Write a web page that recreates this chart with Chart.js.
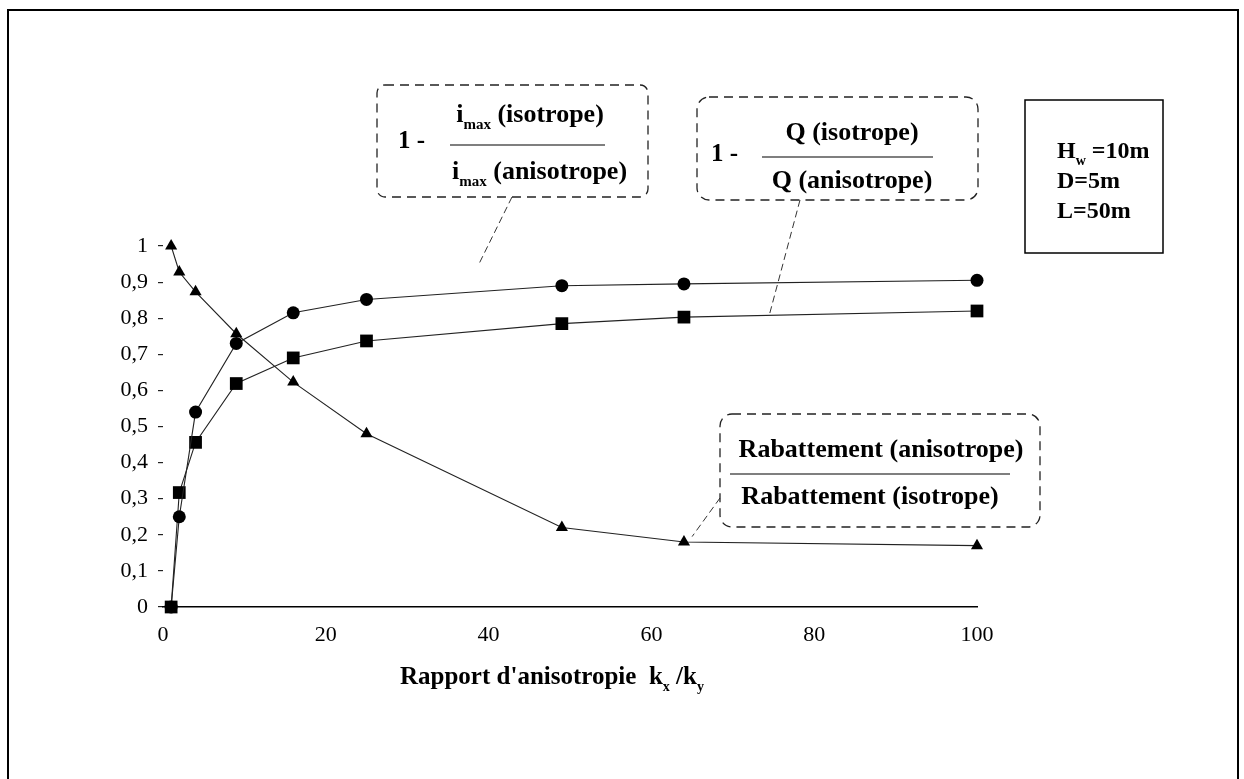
<!DOCTYPE html>
<html>
<head>
<meta charset="utf-8">
<script src="https://cdn.jsdelivr.net/npm/chart.js@4"></script>
<style>
  html, body { margin: 0; padding: 0; background: #fff; }
  #wrap { position: relative; width: 1244px; height: 779px; }
</style>
</head>
<body>
<div id="wrap"><canvas id="chart" width="1244" height="779"></canvas></div>
<script>
// anisotropy ratio kx/ky
const ratios = [1, 2, 4, 9, 16, 25, 49, 64, 100];
// 1 - imax(iso)/imax(aniso)
const gradientRatio = [0, 0.25, 0.54, 0.73, 0.815, 0.852, 0.89, 0.895, 0.905];
// 1 - Q(iso)/Q(aniso)
const flowRatio = [0, 0.317, 0.456, 0.619, 0.69, 0.737, 0.785, 0.803, 0.82];
// drawdown(aniso)/drawdown(iso)
const drawdownRatio = [1.0, 0.928, 0.873, 0.757, 0.623, 0.48, 0.22, 0.18, 0.17];
const yTickLabels = ['0', '0,1', '0,2', '0,3', '0,4', '0,5', '0,6', '0,7', '0,8', '0,9', '1'];
const paramLines = [['H', 'w', ' =10m'], ['D=5m'], ['L=50m']];

const SERIF = '"Liberation Serif", "Times New Roman", serif';

const toPoints = vals => ratios.map((r, i) => ({ x: r, y: vals[i] }));

function dashedBox(ctx, x, y, w, h, r) {
  ctx.save();
  ctx.setLineDash([9, 6]);
  ctx.lineWidth = 1.3;
  ctx.strokeStyle = '#222';
  ctx.beginPath();
  ctx.roundRect(x, y, w, h, r);
  ctx.stroke();
  ctx.restore();
}

// draws [text, sub?] pieces from x, returns total width
function pieces(ctx, parts, x, y, size, measureOnly) {
  let cx = x;
  parts.forEach(([txt, sub]) => {
    ctx.font = 'bold ' + (sub ? Math.round(size * 0.58) : size) + 'px ' + SERIF;
    if (!measureOnly) ctx.fillText(txt, cx, sub ? y + size * 0.38 : y);
    cx += ctx.measureText(txt).width;
  });
  return cx - x;
}
function centered(ctx, parts, cx, y, size) {
  const w = pieces(ctx, parts, 0, 0, size, true);
  pieces(ctx, parts, cx - w / 2, y, size, false);
}
function rule(ctx, x1, x2, y) {
  ctx.beginPath();
  ctx.moveTo(x1, y);
  ctx.lineTo(x2, y);
  ctx.stroke();
}

const extras = {
  id: 'extras',
  afterDraw(chart) {
    const ctx = chart.ctx;
    const xs = chart.scales.x, ys = chart.scales.y;
    ctx.save();
    ctx.fillStyle = '#000';
    ctx.strokeStyle = '#000';
    ctx.textBaseline = 'middle';
    ctx.textAlign = 'left';

    // page frame
    ctx.lineWidth = 2;
    ctx.beginPath();
    ctx.moveTo(8, 779); ctx.lineTo(8, 10); ctx.lineTo(1238, 10); ctx.lineTo(1238, 779);
    ctx.stroke();

    // leader lines
    ctx.save();
    ctx.lineWidth = 1;
    ctx.strokeStyle = '#333';
    ctx.setLineDash([7, 4]);
    ctx.beginPath();
    ctx.moveTo(512, 197); ctx.lineTo(xs.getPixelForValue(38.7), ys.getPixelForValue(0.945));
    ctx.moveTo(800, 200); ctx.lineTo(xs.getPixelForValue(74.5), ys.getPixelForValue(0.81));
    ctx.moveTo(720, 498); ctx.lineTo(xs.getPixelForValue(65), ys.getPixelForValue(0.195));
    ctx.stroke();
    ctx.restore();

    // box: 1 - imax(iso)/imax(aniso)
    dashedBox(ctx, 377, 85, 271, 112, 8);
    ctx.lineWidth = 1.2;
    pieces(ctx, [['1 -']], 398, 142, 25);
    centered(ctx, [['i'], ['max', 1], [' (isotrope)']], 530, 115, 26);
    rule(ctx, 450, 605, 145);
    pieces(ctx, [['i'], ['max', 1], [' (anisotrope)']], 452, 172, 26);

    // box: 1 - Q(iso)/Q(aniso)
    dashedBox(ctx, 697, 97, 281, 103, 12);
    pieces(ctx, [['1 -']], 711, 155, 25);
    centered(ctx, [['Q (isotrope)']], 852, 133, 26);
    rule(ctx, 762, 933, 157);
    centered(ctx, [['Q (anisotrope)']], 852, 181, 26);

    // box: drawdown ratio
    dashedBox(ctx, 720, 414, 320, 113, 12);
    centered(ctx, [['Rabattement (anisotrope)']], 881, 450, 26);
    rule(ctx, 730, 1010, 474);
    centered(ctx, [['Rabattement (isotrope)']], 870, 497, 26);

    // parameters box
    ctx.lineWidth = 1.5;
    ctx.strokeRect(1025, 100, 138, 153);
    paramLines.forEach((line, i) => {
      const parts = line.map((t, j) => [t, line.length > 1 && j === 1 ? 1 : 0]);
      pieces(ctx, parts, 1057, 152 + i * 30, 24);
    });

    // x axis title
    pieces(ctx, [["Rapport d'anisotropie  k"], ['x', 1], [' /k'], ['y', 1]], 400, 678, 25);

    ctx.restore();
  }
};

const lineStyle = {
  borderColor: '#222',
  backgroundColor: '#000',
  borderWidth: 1.1,
  pointBorderWidth: 0,
  tension: 0,
  clip: false
};

new Chart(document.getElementById('chart'), {
  type: 'line',
  data: {
    datasets: [
      Object.assign({ label: 'imax', data: toPoints(gradientRatio), pointStyle: 'circle', pointRadius: 6.5 }, lineStyle),
      Object.assign({ label: 'Q', data: toPoints(flowRatio), pointStyle: 'rect', pointRadius: 9 }, lineStyle),
      Object.assign({ label: 'Rabattement', data: toPoints(drawdownRatio), pointStyle: 'triangle', pointRadius: 7 }, lineStyle)
    ]
  },
  options: {
    responsive: false,
    animation: false,
    devicePixelRatio: 1,
    layout: { padding: { top: 246, right: 267, left: 0, bottom: 0 } },
    plugins: { legend: { display: false }, tooltip: { enabled: false } },
    scales: {
      x: {
        type: 'linear',
        min: 0,
        max: 100,
        afterFit: s => { s.height = 172; },
        ticks: { stepSize: 20, color: '#000', padding: 15, font: { family: SERIF, size: 22 } },
        grid: { display: false, drawTicks: false },
        border: { display: true, color: '#000', width: 1.5 }
      },
      y: {
        min: 0,
        max: 1,
        afterFit: s => { s.width = 163; },
        ticks: {
          stepSize: 0.1,
          color: '#000',
          padding: 10,
          font: { family: SERIF, size: 22 },
          callback: v => yTickLabels[Math.round(v * 10)]
        },
        grid: { drawOnChartArea: false, drawTicks: true, tickLength: 5, color: '#222', lineWidth: 1.2 },
        border: { display: false }
      }
    }
  },
  plugins: [extras]
});
</script>
</body>
</html>
